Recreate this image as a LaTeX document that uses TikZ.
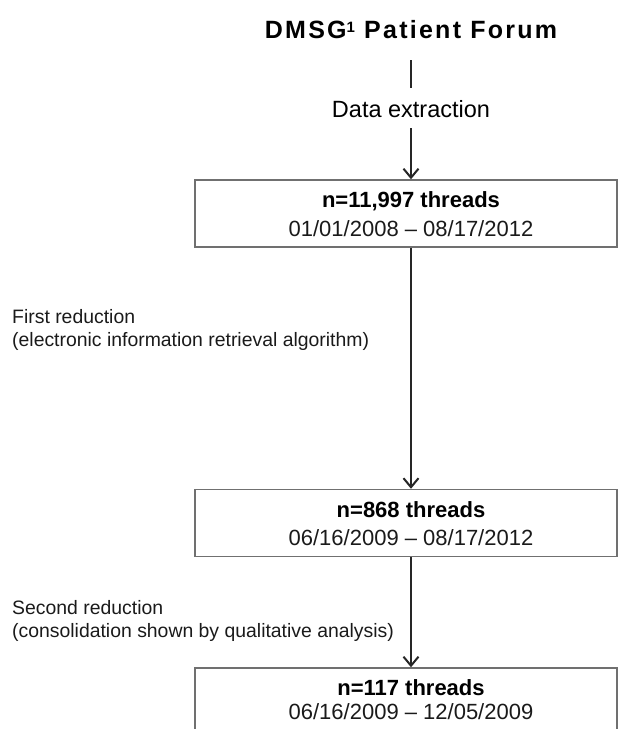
\documentclass[tikz,border=0pt]{standalone}
\usepackage{fontspec}
\setmainfont{Liberation Sans}
\newfontfamily\spacedfont[LetterSpace=9]{Liberation Sans}
\usetikzlibrary{arrows.meta}
\definecolor{boxline}{HTML}{707070}
\definecolor{txt}{HTML}{1A1A1A}
\tikzset{
  titletext/.style={anchor=base, inner sep=0pt, text=black, font=\spacedfont\bfseries\fontsize{25}{30}\selectfont},
  steptext/.style={anchor=base, inner sep=0pt, text=black, font=\fontsize{23.5}{28}\selectfont},
  boldline/.style={anchor=base, inner sep=0pt, text=black, font=\bfseries\fontsize{22}{26}\selectfont},
  dateline/.style={anchor=base, inner sep=0pt, text=txt, font=\fontsize{22}{26}\selectfont},
  sidelabel/.style={anchor=base west, inner sep=0pt, text=txt, font=\fontsize{19.4}{23}\selectfont},
  stagebox/.style={draw=boxline, line width=1.5pt, minimum width=422pt, minimum height=67pt, inner sep=0pt},
  plainline/.style={draw=black!85, line width=2pt},
  arr/.style={draw=black!85, line width=2pt, -{Straight Barb[length=9pt,width=15pt,line width=2pt]}}
}
\begin{document}
\begin{tikzpicture}[x=1pt,y=-1pt]
\useasboundingbox (0,0) rectangle (618,729);
\clip (0,0) rectangle (618,729);

% title and extraction step
\node[titletext] (title) at (411,38) {DMSG{\fontsize{15}{18}\selectfont\raisebox{6pt}{1}} Patient Forum};
\node[steptext] (extr) at (411,117) {Data extraction};

% boxes
\node[stagebox] (b1) at (406,213.5) {};
\node[stagebox] (b2) at (406,523) {};
\node[stagebox] (b3) at (406,701.5) {};

% box texts
\node[boldline] (b1a) at (411,207) {n=11,997 threads};
\node[dateline] (b1b) at (411,236) {01/01/2008 -- 08/17/2012};
\node[boldline] (b2a) at (411,517) {n=868 threads};
\node[dateline] (b2b) at (411,545) {06/16/2009 -- 08/17/2012};
\node[boldline] (b3a) at (411,695) {n=117 threads};
\node[dateline] (b3b) at (411,719) {06/16/2009 -- 12/05/2009};

% side labels
\node[sidelabel] (r1a) at (12,323) {First reduction};
\node[sidelabel] (r1b) at (12,346) {(electronic information retrieval algorithm)};
\node[sidelabel] (r2a) at (12,614) {Second reduction};
\node[sidelabel] (r2b) at (12,637) {(consolidation shown by qualitative analysis)};

% connectors
\draw[plainline, shorten <=31pt, shorten >=20.5pt] (title.center) -- (extr.center);
\draw[arr, shorten <=19.5pt] (extr.center) -- (b1.north -| extr.center);
\draw[arr] (b1.south -| extr.center) -- (b2.north -| extr.center);
\draw[arr] (b2.south -| extr.center) -- (b3.north -| extr.center);
\end{tikzpicture}
\end{document}
